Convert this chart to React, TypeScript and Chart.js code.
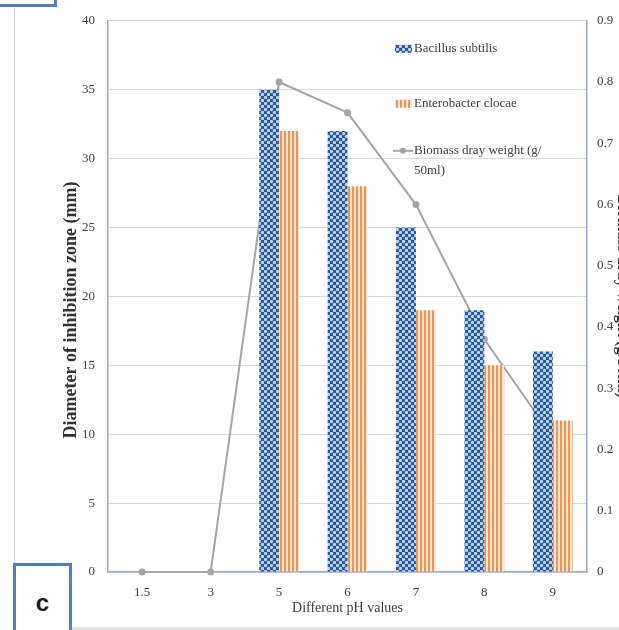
import React, { useEffect, useRef } from 'react';
import { Chart, registerables } from 'chart.js';

Chart.register(...registerables);

const categories = ['1.5', '3', '5', '6', '7', '8', '9'];
const bacillus = [0, 0, 35, 32, 25, 19, 16];
const enterobacter = [0, 0, 32, 28, 19, 15, 11];
const biomass = [0, 0, 0.8, 0.75, 0.6, 0.38, 0.22];
const seriesNames = ['Bacillus subtilis', 'Enterobacter clocae', 'Biomass dray weight (g/50ml)'];
const biomassLegendLines = ['Biomass dray weight (g/', '50ml)'];
const leftTitle = 'Diameter of inhibition zone (mm)      ';
const rightTitle = 'Biomass dray weight (g/50ml)';
const xTitle = 'Different pH values';
const panelLetter = 'c';

const SERIF = '"Liberation Serif", "Times New Roman", serif';
const AXIS_COLOR = '#9aa8d6';
const TEXT_COLOR = '#404040';
const PANEL_BLUE = '#4f7fbf';

function makeDotPattern(): CanvasPattern | string {
  const c = document.createElement('canvas');
  c.width = 6;
  c.height = 6;
  const g = c.getContext('2d');
  if (!g) return '#3b5f92';
  g.fillStyle = '#2a5590';
  g.fillRect(0, 0, 6, 6);
  g.fillStyle = '#b4d3f0';
  const centers = [
    [1.5, 1.5],
    [4.5, 4.5],
  ];
  centers.forEach(([x, y]) => {
    g.beginPath();
    g.arc(x, y, 1.7, 0, Math.PI * 2);
    g.fill();
  });
  return g.createPattern(c, 'repeat') || '#3b5f92';
}

function makeStripePattern(): CanvasPattern | string {
  const c = document.createElement('canvas');
  c.width = 4;
  c.height = 4;
  const g = c.getContext('2d');
  if (!g) return '#f0a060';
  g.fillStyle = '#fde7d4';
  g.fillRect(0, 0, 4, 4);
  g.fillStyle = '#ee9454';
  g.fillRect(0, 0, 2, 4);
  return g.createPattern(c, 'repeat') || '#f0a060';
}

export default function App() {
  const canvasRef = useRef<HTMLCanvasElement | null>(null);

  useEffect(() => {
    const canvas = canvasRef.current;
    if (!canvas) return;
    const dots = makeDotPattern();
    const stripes = makeStripePattern();

    const legendPlugin = {
      id: 'customLegend',
      afterDraw(chart: any) {
        const ctx: CanvasRenderingContext2D = chart.ctx;
        const { left, top } = chart.chartArea;
        const ix = left + 287;
        const tx = left + 306;
        ctx.save();
        ctx.font = '13px ' + SERIF;
        ctx.textBaseline = 'middle';
        ctx.textAlign = 'left';
        ctx.fillStyle = dots as any;
        ctx.fillRect(ix, top + 24, 17, 8);
        ctx.fillStyle = TEXT_COLOR;
        ctx.fillText(seriesNames[0], tx, top + 28);
        ctx.fillStyle = stripes as any;
        ctx.fillRect(ix, top + 79, 17, 8);
        ctx.fillStyle = TEXT_COLOR;
        ctx.fillText(seriesNames[1], tx, top + 83);
        ctx.strokeStyle = '#a5a5a5';
        ctx.lineWidth = 2;
        ctx.beginPath();
        ctx.moveTo(ix - 2, top + 130);
        ctx.lineTo(ix + 18, top + 130);
        ctx.stroke();
        ctx.fillStyle = '#a5a5a5';
        ctx.beginPath();
        ctx.arc(ix + 8, top + 130, 3, 0, Math.PI * 2);
        ctx.fill();
        ctx.fillStyle = TEXT_COLOR;
        ctx.fillText(biomassLegendLines[0], tx, top + 130);
        ctx.fillText(biomassLegendLines[1], tx, top + 150);
        ctx.restore();
      },
    };

    const chart = new Chart(canvas, {
      type: 'bar',
      data: {
        labels: categories,
        datasets: [
          {
            type: 'bar',
            label: seriesNames[0],
            data: bacillus,
            backgroundColor: dots as any,
            borderWidth: 0,
            yAxisID: 'y',
            order: 1,
            categoryPercentage: 0.58,
            barPercentage: 1.0,
          },
          {
            type: 'bar',
            label: seriesNames[1],
            data: enterobacter,
            backgroundColor: stripes as any,
            borderWidth: 0,
            yAxisID: 'y',
            order: 1,
            categoryPercentage: 0.58,
            barPercentage: 1.0,
          },
          {
            type: 'line',
            label: seriesNames[2],
            data: biomass,
            borderColor: '#a5a5a5',
            backgroundColor: '#a5a5a5',
            borderWidth: 2,
            pointRadius: 3.5,
            pointBorderWidth: 0,
            pointBackgroundColor: '#a5a5a5',
            tension: 0,
            yAxisID: 'y1',
            order: 2,
            clip: false as any,
          } as any,
        ],
      },
      options: {
        responsive: false,
        animation: false,
        devicePixelRatio: 1,
        layout: { padding: { top: 18, left: 0, right: 0, bottom: 0 } },
        plugins: {
          legend: { display: false },
          tooltip: { enabled: false },
        },
        scales: {
          x: {
            offset: true,
            grid: { display: false, drawTicks: false },
            border: { display: true, color: AXIS_COLOR, width: 1.5 },
            ticks: { padding: 13, color: TEXT_COLOR, font: { family: SERIF, size: 13 } },
            title: {
              display: true,
              text: xTitle,
              color: TEXT_COLOR,
              font: { family: SERIF, size: 14 },
              padding: { top: 0, bottom: 13 },
            },
            afterFit: (s: any) => {
              s.height = 58;
            },
          },
          y: {
            position: 'left',
            min: 0,
            max: 40,
            ticks: { stepSize: 5, padding: 13, color: TEXT_COLOR, font: { family: SERIF, size: 13 } },
            grid: { color: '#d9d9d9', drawTicks: false, lineWidth: 1 },
            border: { display: true, color: AXIS_COLOR, width: 1.5 },
            title: {
              display: true,
              text: leftTitle,
              color: '#333333',
              font: { family: SERIF, size: 18, weight: 'bold' },
              padding: { top: 61, bottom: 0 },
            },
            afterFit: (s: any) => {
              s.width = 108;
            },
          },
          y1: {
            position: 'right',
            min: 0,
            max: 0.9,
            ticks: {
              stepSize: 0.1,
              padding: 10,
              color: TEXT_COLOR,
              font: { family: SERIF, size: 13 },
              callback: (v: any) => (Math.abs(Number(v)) < 1e-9 ? '0' : Number(v).toFixed(1)),
            },
            grid: { display: false, drawTicks: false },
            border: { display: true, color: AXIS_COLOR, width: 1.5 },
            title: {
              display: true,
              text: rightTitle,
              color: '#333333',
              font: { family: SERIF, size: 16, weight: 'bold' },
              padding: { top: 28, bottom: 0 },
            },
            afterFit: (s: any) => {
              s.width = 73;
            },
          },
        },
      } as any,
      plugins: [legendPlugin],
    });

    return () => {
      chart.destroy();
    };
  }, []);

  return (
    <div
      style={{
        position: 'fixed',
        left: 0,
        top: 0,
        width: 619,
        height: 630,
        overflow: 'hidden',
        background: '#ffffff',
      }}
    >
      <canvas ref={canvasRef} width={660} height={630} style={{ display: 'block', position: 'absolute', left: 0, top: 0 }} />
      <div
        style={{
          position: 'absolute',
          left: -3,
          top: -10,
          width: 60,
          height: 17,
          border: '3px solid ' + PANEL_BLUE,
          boxSizing: 'border-box',
        }}
      />
      <div style={{ position: 'absolute', left: 14, top: 8, width: 1, height: 555, background: '#d6d6d6' }} />
      <div style={{ position: 'absolute', left: 60, top: 627, width: 559, height: 3, background: '#e2e2e2' }} />
      <div
        style={{
          position: 'absolute',
          left: 13,
          top: 563,
          width: 59,
          height: 80,
          border: '3px solid ' + PANEL_BLUE,
          boxSizing: 'border-box',
          background: '#ffffff',
          fontFamily: 'Arial, "Liberation Sans", sans-serif',
          fontWeight: 'bold',
          fontSize: 24,
          color: '#1a1a1a',
          textAlign: 'center',
        }}
      >
        <div style={{ position: 'absolute', left: 0, right: 0, top: 22, lineHeight: '30px' }}>{panelLetter}</div>
      </div>
    </div>
  );
}
